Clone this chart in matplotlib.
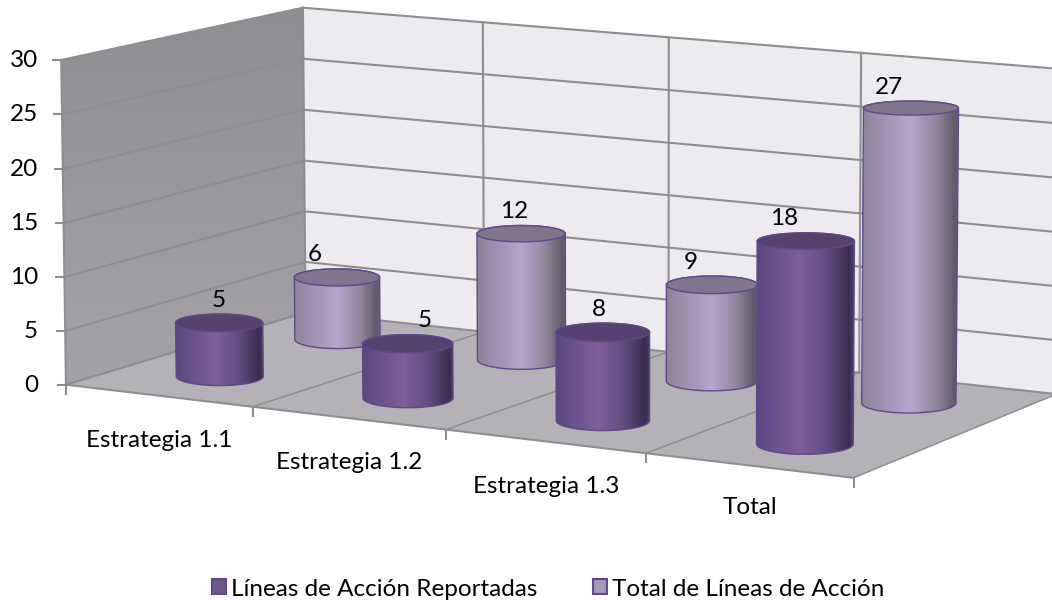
import numpy as np
import matplotlib
matplotlib.use("Agg")
import matplotlib.pyplot as plt
from matplotlib.patches import Polygon, Patch
from matplotlib.colors import LinearSegmentedColormap

# ---------- data ----------
categories = ["Estrategia 1.1", "Estrategia 1.2", "Estrategia 1.3", "Total"]
reportadas = [5, 5, 8, 18]
totales = [6, 12, 9, 27]
y_ticks = [0, 5, 10, 15, 20, 25, 30]
legend_labels = ["Líneas de Acción Reportadas", "Total de Líneas de Acción"]

# ---------- camera calibration: (category, value, depth) -> pixel ----------
world = np.array([(0,0,0),(0,30,0),(0,0,1),(0,30,1),(3,30,1),(3,0,1),(1,0,0),(2,0,0),
                  (3,0,0),(4,0,0),(1,30,1),(2,30,1),(4,0,1),(4,30,1)], float)
screen = np.array([(67,383),(61,60),(305,313),(303,8),(863,53),(860,372),(252,407),(445,432),
                   (646,452),(854,478),(483,22),(668,37),(1056,394),(1059,69)], float)
A = []
for (X, Y, Z), (u, v) in zip(world, screen):
    A.append([X, Y, Z, 1, 0, 0, 0, 0, -u*X, -u*Y, -u*Z, -u])
    A.append([0, 0, 0, 0, X, Y, Z, 1, -v*X, -v*Y, -v*Z, -v])
P = np.linalg.svd(np.array(A))[2][-1].reshape(3, 4)


def project(X, Y, Z):
    h = P @ np.array([X, Y, Z, 1.0])
    return h[0] / h[2], h[1] / h[2]


# ---------- figure ----------
fig = plt.figure(figsize=(10.52, 6.0), dpi=100)
ax = fig.add_axes([0, 0, 1, 1])
ax.set_axis_off()
FONT = "Lato"
FS = 17.5
GRID = "#8e8e8e"


def poly(pts, **kw):
    p = Polygon(pts, closed=True, **kw)
    ax.add_patch(p)
    return p


def gradient(patch, extent, stops, vertical=False, zorder=1):
    cmap = LinearSegmentedColormap.from_list("g", stops)
    g = np.linspace(0, 1, 256)
    arr = g[:, None] if vertical else g[None, :]
    im = ax.imshow(arr, cmap=cmap, extent=extent, aspect="auto", zorder=zorder,
                   interpolation="bilinear", origin="upper", vmin=0, vmax=1)
    im.set_clip_path(patch)


xmax = len(categories)
ymax = y_ticks[-1]

# walls and floor
left = poly([project(0, 0, 0), project(0, ymax, 0), project(0, ymax, 1), project(0, 0, 1)],
            facecolor="none", edgecolor="none", zorder=1)
gradient(left, (55, 310, 390, 5), [(0, "#908e92"), (1, "#a5a3a7")], vertical=True)
poly([project(0, 0, 1), project(0, ymax, 1), project(xmax, ymax, 1), project(xmax, 0, 1)],
     facecolor="#edebf0", edgecolor="none", zorder=1)
poly([project(0, 0, 0), project(0, 0, 1), project(xmax, 0, 1), project(xmax, 0, 0)],
     facecolor="#b4b2b7", edgecolor="none", zorder=1)

# grid lines
for t in y_ticks:
    a, b, c = project(0, t, 0), project(0, t, 1), project(xmax, t, 1)
    ax.plot([a[0], b[0], c[0]], [a[1], b[1], c[1]], color=GRID, lw=1.5, zorder=2)
    ax.plot([a[0] - 8, a[0]], [a[1], a[1]], color=GRID, lw=1.5, zorder=2)
    ax.text(38, a[1] + 0.5, str(t), ha="right", va="center", fontsize=FS, family=FONT, color="black")
for i in range(xmax + 1):
    a, b, c = project(i, 0, 0), project(i, 0, 1), project(i, ymax, 1)
    ax.plot([a[0], b[0]], [a[1], b[1]], color=GRID, lw=1.1, zorder=2)
    ax.plot([b[0], c[0]], [b[1], c[1]], color=GRID, lw=1.5, zorder=2)
    ax.plot([a[0], a[0]], [a[1], a[1] + 9], color=GRID, lw=1.5, zorder=2)
# front and left edges
fa, fb = project(0, 0, 0), project(xmax, 0, 0)
ax.plot([fa[0], fb[0]], [fa[1], fb[1]], color=GRID, lw=1.5, zorder=2)
ra, rb = project(0, ymax, 0), project(0, 0, 0)
ax.plot([ra[0], rb[0]], [ra[1], rb[1]], color=GRID, lw=1.5, zorder=2)

# category labels
CAT_DY = [45, 44, 45, 42]
for i, name in enumerate(categories):
    x, y = project(i + 0.5, 0, 0)
    ax.text(x + 1, y + CAT_DY[i], name, ha="center", va="center", fontsize=FS, family=FONT, color="black")

RADIUS = 0.236
PURPLE = [(0, "#5b4780"), (0.45, "#7e5f9c"), (0.72, "#614d80"), (0.95, "#3a2c4e"), (1, "#4f3f6e")]
LILAC = [(0, "#8e8299"), (0.5, "#b6a6cd"), (0.78, "#8f8599"), (0.96, "#5f5a68"), (1, "#6d6080")]
LABEL_DX = {"r": [0, 17, -4, -22], "t": [-22, -7, -21, -22]}


def ellipse(cx, cy, rx, ry, t0=0.0, t1=2 * np.pi, n=80):
    t = np.linspace(t0, t1, n)
    return np.column_stack([cx + rx * np.cos(t), cy + ry * np.sin(t)])


def cylinder(i, value, depth, stops, top_color, edge, label_dx, z):
    X = i + 0.497 + 0.003 * i
    x0, y0 = project(X, 0, depth)
    x1, y1 = project(X, value, depth)
    rx0 = (project(X + RADIUS, 0, depth)[0] - project(X - RADIUS, 0, depth)[0]) / 2
    rx1 = (project(X + RADIUS, value, depth)[0] - project(X - RADIUS, value, depth)[0]) / 2
    ry0 = rx0 * 0.215
    ry1 = rx1 * (0.215 - 0.0025 * value)
    lower = ellipse(x0, y0, rx0, ry0, 0, np.pi)          # right -> left through the bottom
    upper = ellipse(x1, y1, rx1, ry1, np.pi, 2 * np.pi)  # left -> right through the top
    body = np.vstack([lower, upper])
    p = poly(body, facecolor="none", edgecolor="none", zorder=z)
    xl, xr = min(x0 - rx0, x1 - rx1), max(x0 + rx0, x1 + rx1)
    gradient(p, (xl, xr, y0 + ry0 + 2, y1 - ry1 - 2), stops, zorder=z)
    poly(body, facecolor="none", edgecolor=edge, lw=1.0, zorder=z + 0.1)
    poly(ellipse(x1, y1, rx1, ry1), facecolor=top_color, edgecolor=edge, lw=1.0, zorder=z + 0.2)
    ax.text(x1 + label_dx, y1 - ry1 - 14, str(value), ha="center", va="center",
            fontsize=FS, family=FONT, color="black", zorder=z + 0.3)


for i, v in enumerate(totales):
    cylinder(i, v, 0.75, LILAC, "#80748f", "#5e4a88", LABEL_DX["t"][i], 5 + i)
for i, v in enumerate(reportadas):
    cylinder(i, v, 0.25, PURPLE, "#56416f", "#5e4a88", LABEL_DX["r"][i], 10 + i)

handles = [Patch(facecolor="#70588f", edgecolor="#5e4a88", lw=1.5),
           Patch(facecolor="#a795c0", edgecolor="#5e4a88", lw=1.5)]
ax.legend(handles, legend_labels, loc="center", bbox_to_anchor=(548 / 1052, 1 - 589 / 600),
          ncols=2, frameon=False, handlelength=0.58, handleheight=0.58, handletextpad=0.2,
          columnspacing=2.3, borderpad=0, prop={"family": FONT, "size": FS})

ax.set_xlim(0, 1052)
ax.set_ylim(600, 0)
fig.savefig("out.png", dpi=100, facecolor="white")
